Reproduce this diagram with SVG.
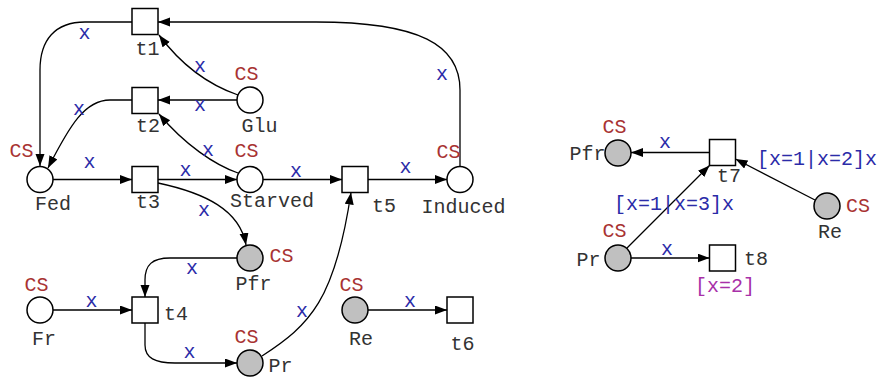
<svg xmlns="http://www.w3.org/2000/svg" width="882" height="378" viewBox="0 0 882 378">
<style>
text{font-family:"Liberation Mono","Courier New",monospace;font-size:20px;text-anchor:middle}
.lbl{fill:#333333}
.cs{fill:#a83232}
.ax{fill:#2b2ba8}
.gd{fill:#a830a8}
.pl{fill:#ffffff;stroke:#000;stroke-width:1.5}
.pg{fill:#c0c0c0;stroke:#000;stroke-width:1.5}
.tr{fill:#ffffff;stroke:#000;stroke-width:1.5}
.arc{fill:none;stroke:#000;stroke-width:1.3;marker-end:url(#ah)}
</style>
<defs>
<marker id="ah" markerUnits="userSpaceOnUse" markerWidth="13" markerHeight="10" refX="12" refY="4.5" orient="auto">
<path d="M0,0 L12,4.5 L0,9 z" fill="#000"/>
</marker>
</defs>
<rect width="882" height="378" fill="#ffffff"/>
<g id="connectors">
<path class="arc" d="M460,166 L460,90 C460,45 420,22 316,22 L158,22"/>
<path class="arc" d="M132,22 L85,22 C55,22 40,40 40,70 L40,166"/>
<path class="arc" d="M238,95 C215,87 185,70 159,35"/>
<path class="arc" d="M237,100 L158,100"/>
<path class="arc" d="M132,100 L110,100 C85,100 70,125 48,168"/>
<path class="arc" d="M238,173 C215,165 185,145 159,114"/>
<path class="arc" d="M53,179.5 L132,179.5"/>
<path class="arc" d="M158,179.5 L237,179.5"/>
<path class="arc" d="M263,179.5 L342,179.5"/>
<path class="arc" d="M368,179.5 L447,179.5"/>
<path class="arc" d="M158,183 C205,193 240,210 246,245"/>
<path class="arc" d="M237,258 L170,258 C152,258 145,265 145,280 L145,297"/>
<path class="arc" d="M53,310 L132,310"/>
<path class="arc" d="M145,323 L145,345 C145,358 155,363 175,363 L237,363"/>
<path class="arc" d="M262,356 C310,325 335,300 351,192.5"/>
<path class="arc" d="M368,310 L447,310"/>
<path class="arc" d="M709.5,152.5 L631,152.5"/>
<path class="arc" d="M815,200 L735.5,159"/>
<path class="arc" d="M627,248 L709.5,165.5"/>
<path class="arc" d="M631,258 L709.5,258"/>
<text class="ax" x="84.5" y="39">x</text>
<text class="ax" x="442" y="80">x</text>
<text class="ax" x="200" y="72">x</text>
<text class="ax" x="200" y="111">x</text>
<text class="ax" x="79" y="115">x</text>
<text class="ax" x="208" y="156">x</text>
<text class="ax" x="89.5" y="168">x</text>
<text class="ax" x="185.5" y="176">x</text>
<text class="ax" x="296" y="177">x</text>
<text class="ax" x="405.5" y="173">x</text>
<text class="ax" x="204" y="216">x</text>
<text class="ax" x="192" y="274">x</text>
<text class="ax" x="91.5" y="307">x</text>
<text class="ax" x="189.5" y="358">x</text>
<text class="ax" x="302" y="317">x</text>
<text class="ax" x="410" y="307">x</text>
<text class="ax" x="665" y="148">x</text>
<text class="ax" x="817" y="165">[x=1|x=2]x</text>
<text class="ax" x="674" y="210">[x=1|x=3]x</text>
<text class="ax" x="667" y="255">x</text>
</g>
<g id="Fed"><circle class="pl" cx="40" cy="179.5" r="13"/><text class="cs" x="21.5" y="157">CS</text><text class="lbl" x="53" y="210">Fed</text></g>
<g id="t1"><rect class="tr" x="132" y="8.5" width="26" height="26"/><text class="lbl" x="147.5" y="55">t1</text></g>
<g id="t2"><rect class="tr" x="132" y="87.5" width="26" height="26"/><text class="lbl" x="148" y="132">t2</text></g>
<g id="Glu"><circle class="pl" cx="250" cy="100" r="13"/><text class="cs" x="246.5" y="80">CS</text><text class="lbl" x="259.5" y="132">Glu</text></g>
<g id="t3"><rect class="tr" x="132" y="166.5" width="26" height="26"/><text class="lbl" x="148" y="208">t3</text></g>
<g id="Starved"><circle class="pl" cx="250" cy="179.5" r="13"/><text class="cs" x="246.5" y="157">CS</text><text class="lbl" x="272" y="207">Starved</text></g>
<g id="t5"><rect class="tr" x="342" y="166.5" width="26" height="26"/><text class="lbl" x="384" y="212">t5</text></g>
<g id="Induced"><circle class="pl" cx="460" cy="179.5" r="13"/><text class="cs" x="448.5" y="158">CS</text><text class="lbl" x="463.5" y="213">Induced</text></g>
<g id="Pfr"><circle class="pg" cx="250" cy="258" r="13"/><text class="cs" x="281.5" y="262">CS</text><text class="lbl" x="253.5" y="290">Pfr</text></g>
<g id="Fr"><circle class="pl" cx="40" cy="310" r="13"/><text class="cs" x="36.5" y="291">CS</text><text class="lbl" x="44" y="345">Fr</text></g>
<g id="t4"><rect class="tr" x="132" y="297" width="26" height="26"/><text class="lbl" x="176" y="320">t4</text></g>
<g id="Pr"><circle class="pg" cx="250" cy="363" r="13"/><text class="cs" x="246.5" y="343">CS</text><text class="lbl" x="280.5" y="372">Pr</text></g>
<g id="Re"><circle class="pg" cx="355" cy="310" r="13"/><text class="cs" x="351.5" y="291">CS</text><text class="lbl" x="361" y="345">Re</text></g>
<g id="t6"><rect class="tr" x="447" y="297" width="26" height="26"/><text class="lbl" x="462.5" y="350">t6</text></g>
<g id="Pfr2"><circle class="pg" cx="618" cy="153" r="13"/><text class="cs" x="614.5" y="133">CS</text><text class="lbl" x="587.5" y="160">Pfr</text></g>
<g id="t7"><rect class="tr" x="709.5" y="139.5" width="26" height="26"/><text class="lbl" x="729" y="182">t7</text></g>
<g id="Re2"><circle class="pg" cx="827" cy="206" r="13"/><text class="cs" x="858" y="212">CS</text><text class="lbl" x="830" y="238">Re</text></g>
<g id="Pr2"><circle class="pg" cx="618" cy="258" r="13"/><text class="cs" x="614.5" y="237">CS</text><text class="lbl" x="588.5" y="266">Pr</text></g>
<g id="t8"><rect class="tr" x="709.5" y="245" width="26" height="26"/><text class="lbl" x="756" y="265">t8</text><text class="gd" x="725" y="292">[x=2]</text></g>
</svg>
